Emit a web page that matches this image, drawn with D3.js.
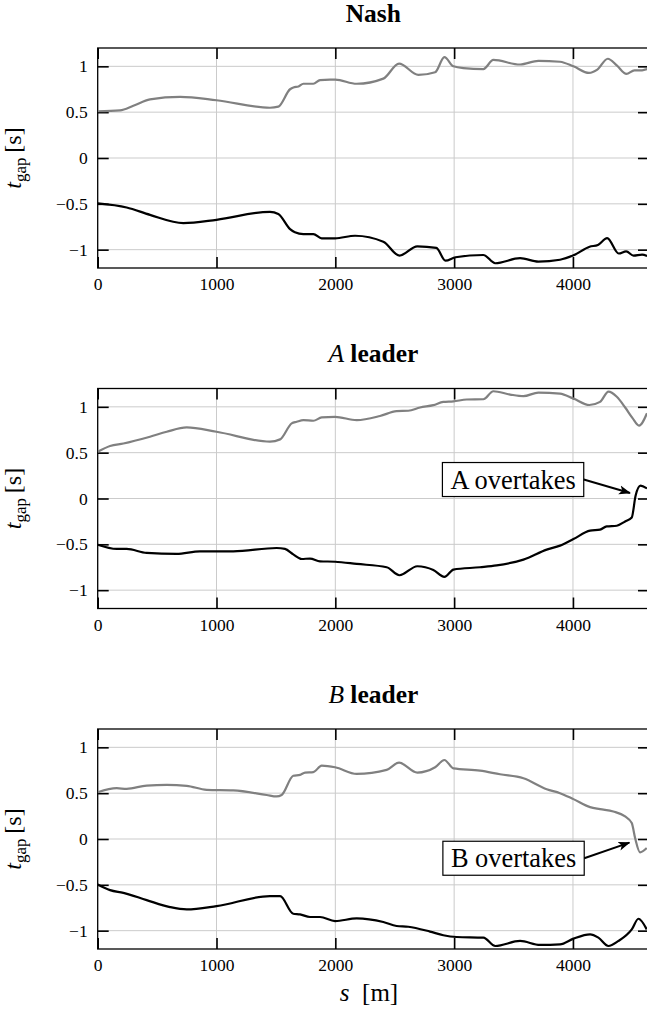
<!DOCTYPE html>
<html>
<head>
<meta charset="utf-8">
<script src="https://cdn.jsdelivr.net/npm/d3@7"></script>
<style>
  body { margin: 0; background: #fff; }
  text { font-family: "Liberation Serif", "Times New Roman", serif; }
</style>
</head>
<body>
<svg width="647" height="1016"></svg>
<script>
// x: distance s [m], y: time gap [s]; each series is [s, t_gap] pairs
const xTicks = [0, 1000, 2000, 3000, 4000];
const yTicks = [-1, -0.5, 0, 0.5, 1];
const panelTitles = ["Nash", "A leader", "B leader"];

const nashGray = [[0,0.51],[188,0.52],[300,0.57],[440,0.64],[694,0.667],[1000,0.63],[1450,0.548],[1520,0.56],[1619,0.75],[1647,0.77],[1690,0.78],[1731,0.81],[1815,0.81],[1871,0.85],[1955,0.855],[2000,0.855],[2180,0.81],[2404,0.866],[2536,1.03],[2699,0.906],[2840,0.935],[2918,1.10],[2994,1.0],[3078,0.98],[3246,0.97],[3330,1.07],[3555,1.02],[3709,1.06],[3891,1.05],[4004,1.0],[4135,0.928],[4205,0.964],[4293,1.083],[4371,1.007],[4450,0.917],[4517,0.957],[4582,0.957],[4624,0.97]];
const nashBlack = [[0,-0.496],[244,-0.54],[440,-0.62],[721,-0.71],[1000,-0.674],[1450,-0.587],[1520,-0.61],[1619,-0.775],[1660,-0.81],[1731,-0.83],[1815,-0.83],[1885,-0.876],[1998,-0.876],[2166,-0.848],[2404,-0.913],[2540,-1.065],[2690,-0.963],[2850,-0.98],[2927,-1.12],[3012,-1.083],[3246,-1.058],[3346,-1.148],[3555,-1.093],[3709,-1.13],[3891,-1.11],[4004,-1.062],[4140,-0.968],[4210,-0.948],[4288,-0.874],[4385,-1.042],[4448,-1.018],[4510,-1.065],[4582,-1.054],[4624,-1.07]];

const aGray = [[0,0.51],[104,0.573],[216,0.60],[440,0.674],[581,0.728],[749,0.775],[1000,0.728],[1450,0.62],[1535,0.645],[1633,0.82],[1675,0.837],[1731,0.855],[1815,0.848],[1885,0.884],[1998,0.89],[2180,0.855],[2376,0.90],[2516,0.953],[2614,0.957],[2713,0.993],[2825,1.018],[2909,1.054],[2994,1.06],[3106,1.08],[3246,1.083],[3330,1.17],[3471,1.134],[3583,1.116],[3709,1.156],[3891,1.145],[4004,1.09],[4138,1.02],[4228,1.054],[4299,1.165],[4369,1.11],[4441,0.99],[4500,0.88],[4556,0.795],[4623,0.93]];
const aBlack = [[0,-0.504],[160,-0.55],[244,-0.55],[412,-0.594],[664,-0.605],[861,-0.576],[1141,-0.576],[1506,-0.54],[1576,-0.55],[1646,-0.61],[1717,-0.66],[1787,-0.655],[1871,-0.685],[1998,-0.69],[2180,-0.714],[2432,-0.75],[2540,-0.837],[2690,-0.739],[2825,-0.78],[2918,-0.855],[2994,-0.775],[3218,-0.75],[3358,-0.73],[3583,-0.667],[3779,-0.558],[3891,-0.514],[4004,-0.442],[4144,-0.351],[4228,-0.34],[4284,-0.304],[4369,-0.297],[4439,-0.25],[4495,-0.207],[4527,0.03],[4569,0.14],[4623,0.11]];

const bGray = [[0,0.51],[160,0.554],[244,0.547],[412,0.583],[581,0.59],[749,0.58],[917,0.536],[1141,0.53],[1422,0.48],[1506,0.464],[1548,0.48],[1646,0.69],[1703,0.70],[1745,0.725],[1815,0.73],[1885,0.80],[1998,0.783],[2180,0.71],[2432,0.754],[2536,0.833],[2690,0.725],[2840,0.783],[2918,0.862],[2994,0.77],[3218,0.746],[3386,0.706],[3583,0.663],[3779,0.543],[3891,0.50],[4004,0.435],[4144,0.348],[4228,0.326],[4340,0.30],[4439,0.246],[4495,0.174],[4523,0.011],[4565,-0.145],[4621,-0.098]];
const bBlack = [[0,-0.496],[104,-0.558],[216,-0.587],[412,-0.667],[609,-0.743],[749,-0.768],[1000,-0.732],[1450,-0.623],[1535,-0.623],[1646,-0.815],[1703,-0.822],[1787,-0.851],[1871,-0.851],[1998,-0.895],[2180,-0.866],[2404,-0.906],[2516,-0.949],[2614,-0.957],[2797,-1.01],[2909,-1.05],[3021,-1.069],[3246,-1.076],[3346,-1.167],[3555,-1.112],[3723,-1.156],[3891,-1.149],[4004,-1.087],[4144,-1.04],[4214,-1.076],[4298,-1.167],[4383,-1.112],[4495,-0.986],[4551,-0.87],[4621,-0.986]];

const annotationTexts = [null, "A overtakes", "B overtakes"];
const annotationTargets = [null, [4480, 0.06], [4475, -0.04]];

const panels = [
  { title: panelTitles[0], gray: nashGray, black: nashBlack },
  { title: panelTitles[1], gray: aGray, black: aBlack, note: annotationTexts[1], target: annotationTargets[1], box: [3496, 0.207] },
  { title: panelTitles[2], gray: bGray, black: bBlack, note: annotationTexts[2], target: annotationTargets[2], box: [3500, -0.21] },
];

const serif = '"Liberation Serif", "Times New Roman", serif';
const svg = d3.select("svg");
const left = 97.7, right = 649, panelH = 220;
const panelTop = [48, 388.5, 729];

const x = d3.scaleLinear().domain([0, 4640]).range([left, right]);
const yFormat = d => d3.format("")(d).replace("-", "\u2212");

svg.append("defs").append("marker")
  .attr("id", "arrow")
  .attr("viewBox", "0 0 12 10")
  .attr("refX", 11).attr("refY", 5)
  .attr("markerWidth", 12).attr("markerHeight", 10)
  .attr("markerUnits", "userSpaceOnUse")
  .attr("orient", "auto")
  .append("path")
  .attr("d", "M0,0.5 L12,5 L0,9.5 L3,5 Z")
  .attr("fill", "#000");

panels.forEach((p, i) => {
  const top = panelTop[i];
  const y = d3.scaleLinear().domain([-1.2, 1.2]).range([top + panelH, top]);
  const g = svg.append("g");

  // grid
  g.selectAll(".vgrid").data(xTicks.slice(1)).enter().append("line")
    .attr("x1", d => x(d)).attr("x2", d => x(d))
    .attr("y1", top).attr("y2", top + panelH)
    .attr("stroke", "#cbcbcb").attr("stroke-width", 1);
  g.selectAll(".hgrid").data(yTicks).enter().append("line")
    .attr("x1", left).attr("x2", right)
    .attr("y1", d => y(d)).attr("y2", d => y(d))
    .attr("stroke", "#cbcbcb").attr("stroke-width", 1);

  // axes, ticks pointing inwards
  const styleAxis = a => {
    a.attr("font-family", serif).attr("font-size", 17.5);
    a.select(".domain").remove();
    a.selectAll("line").attr("stroke-width", 1.6);
    a.selectAll("text").attr("fill", "#000");
  };
  g.append("g").attr("transform", `translate(0,${top + panelH})`)
    .call(d3.axisBottom(x).tickValues(xTicks).tickSize(-11).tickPadding(10).tickFormat(d3.format("d")))
    .call(styleAxis);
  g.append("g").attr("transform", `translate(0,${top})`)
    .call(d3.axisTop(x).tickValues(xTicks).tickSize(-11).tickFormat(""))
    .call(styleAxis);
  g.append("g").attr("transform", `translate(${left},0)`)
    .call(d3.axisLeft(y).tickValues(yTicks).tickSize(-11).tickPadding(10).tickFormat(yFormat))
    .call(styleAxis);
  g.append("g").attr("transform", `translate(${right},0)`)
    .call(d3.axisRight(y).tickValues(yTicks).tickSize(-11).tickFormat(""))
    .call(styleAxis);

  // frame
  g.append("rect")
    .attr("x", left).attr("y", top)
    .attr("width", right - left).attr("height", panelH)
    .attr("fill", "none").attr("stroke", "#000").attr("stroke-width", 1.3);

  // lines
  g.append("clipPath").attr("id", "clip" + i).append("rect")
    .attr("x", left).attr("y", top).attr("width", right - left).attr("height", panelH);
  const line = d3.line().x(d => x(d[0])).y(d => y(d[1])).curve(d3.curveMonotoneX);
  g.append("path").datum(p.gray).attr("d", line)
    .attr("fill", "none").attr("stroke", "#808080").attr("stroke-width", 2.2)
    .attr("clip-path", `url(#clip${i})`);
  g.append("path").datum(p.black).attr("d", line)
    .attr("fill", "none").attr("stroke", "#000").attr("stroke-width", 2.2)
    .attr("clip-path", `url(#clip${i})`);

  // title
  const parts = p.title.split(" ");
  const t = g.append("text")
    .attr("x", (left + right) / 2).attr("y", top - 26.5)
    .attr("text-anchor", "middle").attr("font-size", 25.5);
  if (parts.length > 1) {
    t.append("tspan").attr("font-style", "italic").text(parts[0]);
    t.append("tspan").attr("font-weight", "bold").text(" " + parts.slice(1).join(" "));
  } else {
    t.attr("font-weight", "bold").text(p.title);
  }

  // y label
  const yl = g.append("text")
    .attr("transform", `translate(21,${top + panelH / 2}) rotate(-90)`)
    .attr("text-anchor", "middle").attr("font-size", 24);
  yl.append("tspan").attr("font-style", "italic").text("t");
  yl.append("tspan").attr("font-size", 17).attr("dy", 5).text("gap");
  yl.append("tspan").attr("dy", -5).text("\u2009[s]");

  // annotation
  if (p.note) {
    const bx = x(p.box[0]), by = y(p.box[1]);
    const ag = g.append("g");
    const rect = ag.append("rect");
    const txt = ag.append("text")
      .attr("x", bx).attr("y", by).attr("dy", "0.35em")
      .attr("text-anchor", "middle").attr("font-size", 26.4).text(p.note);
    const bb = txt.node().getBBox();
    const padX = 8;
    const bw = bb.width + 2 * padX, bh = 34;
    rect.attr("x", bx - bw / 2).attr("y", by - bh / 2)
      .attr("width", bw).attr("height", bh)
      .attr("fill", "#fff").attr("stroke", "#000").attr("stroke-width", 1.2);
    g.append("line")
      .attr("x1", bx + bw / 2).attr("y1", by)
      .attr("x2", x(p.target[0])).attr("y2", y(p.target[1]))
      .attr("stroke", "#000").attr("stroke-width", 2)
      .attr("marker-end", "url(#arrow)");
  }
});

// x label
const xl = svg.append("text")
  .attr("x", 369).attr("y", 1001)
  .attr("text-anchor", "middle").attr("font-size", 25);
xl.append("tspan").attr("font-style", "italic").text("s");
xl.append("tspan").text("\u2002[m]");
</script>
</body>
</html>
